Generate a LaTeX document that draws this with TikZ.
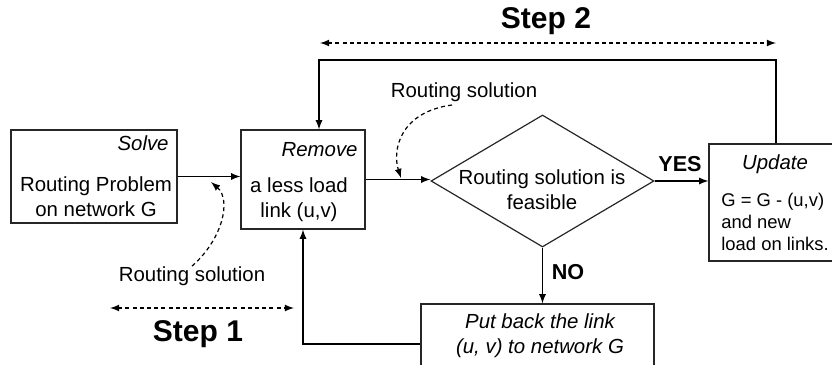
\documentclass[tikz,border=0pt]{standalone}
\usepackage{fontspec}
\setmainfont{Liberation Sans}
\usepackage{tikz}
\usetikzlibrary{arrows,positioning,shapes.geometric}

\begin{document}
\begin{tikzpicture}[>=latex,x=0.5pt,y=-0.5pt]
	\tikzstyle{flow} = [->, black, line width=0.6pt]
	\tikzstyle{hint} = [->, black, line width=0.6pt, dash pattern=on 2pt off 1.6pt]
	\tikzstyle{span} = [<->, black, line width=0.6pt, dash pattern=on 2pt off 1.6pt]
	\tikzstyle{block} = [rectangle, draw=black!85, line width=0.6pt, inner sep=0]
	\tikzstyle{test} = [diamond, draw=black!85, line width=0.6pt, inner sep=0, minimum width=111.5pt, minimum height=66pt]
	\tikzstyle{txt} = [font=\fontsize{10.2}{12.5}\selectfont, inner sep=0, align=center]
	\tikzstyle{head} = [font=\fontsize{10.2}{12.5}\selectfont\itshape, inner sep=0]
	\tikzstyle{stepno} = [font=\fontsize{15}{18}\selectfont\bfseries, inner sep=0]
	\tikzstyle{answer} = [font=\fontsize{10.8}{13}\selectfont\bfseries, inner sep=0]
	\clip (0,0) rectangle (832,365);

	% boxes
	\node [block, minimum width=83pt, minimum height=46.5pt] (solve) at (94,176.5) {};
	\node [block, minimum width=62pt, minimum height=49.5pt] (remove) at (303,179.5) {};
	\node [test] (feas) at (542.5,181) {};
	\node [block, minimum width=67pt, minimum height=58.5pt] (update) at (776,202.5) {};
	\node [block, minimum width=116.5pt, minimum height=40pt] (putback) at (537.5,344) {};

	\node [head, anchor=east] (solvehd) at (169,143) {Solve};
	\node [txt] (solvetxt) at (96,196.5) {Routing Problem\\on network G};
	\node [head, anchor=east] (removehd) at (358,150) {Remove};
	\node [txt] (removetxt) at (299,199.5) {a less load\\link (u,v)};
	\node [txt] (feastxt) at (542,189.5) {Routing solution is\\feasible};
	\node [head] (updatehd) at (775,164) {Update};
	\node [txt, anchor=west, align=left, font=\fontsize{9.2}{11}\selectfont] (updatetxt) at (721,222) {G = G - (u,v)\\and new\\load on links.};
	\node [txt, font=\fontsize{10.2}{12.5}\selectfont\itshape] (putbacktxt) at (540,335.5) {Put back the link\\(u, v) to network G};

	\node [answer] (yes) at (680,164) {YES};
	\node [answer] (no) at (568,272) {NO};

	\node [txt] (rsol1) at (192,276) {Routing solution};
	\node [txt] (rsol2) at (464,92) {Routing solution};

	\node [stepno] (step1) at (198,334) {Step 1};
	\node [stepno] (step2) at (546,21) {Step 2};

	% main flow
	\draw [flow] (solve.east) -- (solve.east -| remove.west);
	\draw [flow] (remove.east) -- (remove.east -| feas.west);
	\draw [flow] (feas.east) -- (feas.east -| update.west);
	\draw [flow] (feas.south) -- (feas.south |- putback.north);
	\draw [flow] (putback.west) -| (remove.south);
	\coordinate (back) at (319,60);
	\draw [flow] (update.north) |- (back) -- (back |- remove.north);

	% routing solution hints
	\coordinate (tip1) at (211,182);
	\coordinate (tip2) at (401,178);
	\coordinate (from2) at (452,105);
	\draw [hint] (rsol1.north) .. controls (222,240) and (232,200) .. (tip1);
	\draw [hint] (from2) .. controls (400,112) and (392,150) .. (tip2);

	% steps
	\coordinate (s1a) at (110,308);
	\coordinate (s1b) at (294,308);
	\coordinate (s2a) at (320,43);
	\coordinate (s2b) at (776,43);
	\draw [span] (s1a) -- (s1b);
	\draw [span] (s2a) -- (s2b);
\end{tikzpicture}
\end{document}
